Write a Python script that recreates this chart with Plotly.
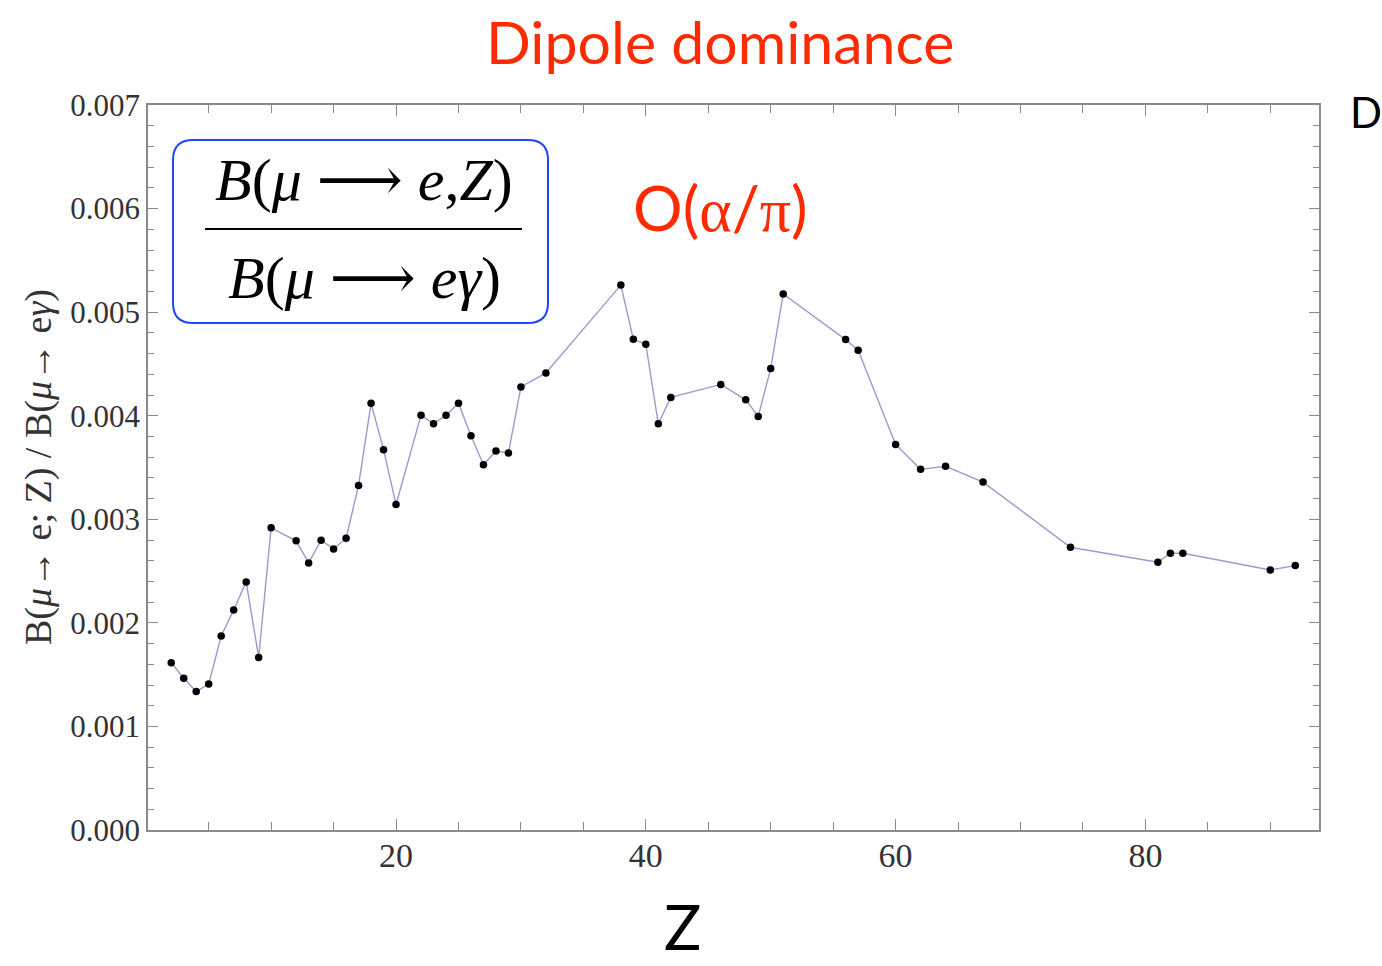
import plotly.graph_objects as go

# ---- data ----
Z = [2, 3, 4, 5, 6, 7, 8, 9, 10, 12, 13, 14, 15, 16, 17, 18, 19, 20,
     22, 23, 24, 25, 26, 27, 28, 29, 30, 32, 38, 39, 40, 41, 42, 46, 48,
     49, 50, 51, 56, 57, 60, 62, 64, 67, 74, 81, 82, 83, 90, 92]
ratio = [1.615, 1.465, 1.337, 1.409, 1.873, 2.125, 2.395, 1.666, 2.918,
         2.792, 2.579, 2.798, 2.714, 2.817, 3.327, 4.120, 3.672, 3.143,
         4.004, 3.923, 4.004, 4.120, 3.807, 3.527, 3.659, 3.640, 4.278,
         4.413, 5.261, 4.738, 4.690, 3.922, 4.177, 4.302, 4.153, 3.993,
         4.457, 5.176, 4.735, 4.632, 3.723, 3.482, 3.512, 3.359, 2.730,
         2.585, 2.672, 2.672, 2.511, 2.553]
ratio = [v * 1e-3 for v in ratio]

title_text = "Dipole dominance"
order_text = ("O(<span style='font-family:Liberation Serif'>α</span>/"
              "<span style='font-family:Liberation Serif'>π</span>)")
xlabel_text = "Z"
ylabel_text = "B(<i>μ</i>→ e; Z) / B(<i>μ</i>→ e<i>γ</i>)"
num_text = "<i>B</i>(<i>μ</i> ⟶ <i>e</i>,<i>Z</i>)"
den_text = "<i>B</i>(<i>μ</i> ⟶ <i>eγ</i>)"

# ---- layout geometry (pixels) ----
W, H = 1382, 966
L, R, T, B = 148, 1319, 105, 830
pw, ph = R - L, B - T


def px(x):
    return (x - L) / pw


def py(y):
    return (B - y) / ph


frame = "#8a8a8a"
red = "#ff2a00"
blue = "#1e46ff"

fig = go.Figure()
fig.add_trace(go.Scatter(
    x=Z, y=ratio, mode="lines+markers",
    line=dict(color="#9a9ad0", width=1.4),
    marker=dict(color="black", size=7.5),
    showlegend=False,
))

axis_common = dict(
    showgrid=False, zeroline=False, showline=True, linecolor=frame,
    linewidth=1.5, mirror="ticks", ticks="inside", tickcolor=frame,
    tickwidth=1.2,
)

fig.update_xaxes(
    range=[0.14, 93.9], dtick=20, tick0=0, ticklen=11, ticklabelstandoff=-6,
    minor=dict(dtick=5, ticklen=8, ticks="inside", tickcolor=frame, tickwidth=1.2),
    tickfont=dict(family="Liberation Serif", size=34, color="#333333"),
    **axis_common,
)
fig.update_yaxes(
    range=[0, 0.007], dtick=0.001, tick0=0, ticklen=10, tickformat=".3f",
    minor=dict(dtick=0.0002, ticklen=6, ticks="inside", tickcolor=frame, tickwidth=1.2),
    tickfont=dict(family="Liberation Serif", size=31, color="#333333"),
    **axis_common,
)

# rounded blue box
x0, x1 = px(173), px(548)
y0, y1 = py(323), py(140)
rx, ry = 20 / pw, 20 / ph
path = (f"M {x0+rx},{y1} L {x1-rx},{y1} Q {x1},{y1} {x1},{y1-ry} "
        f"L {x1},{y0+ry} Q {x1},{y0} {x1-rx},{y0} L {x0+rx},{y0} "
        f"Q {x0},{y0} {x0},{y0+ry} L {x0},{y1-ry} Q {x0},{y1} {x0+rx},{y1} Z")
fig.add_shape(type="path", path=path, xref="paper", yref="paper",
              line=dict(color=blue, width=2), fillcolor="white", layer="above")
fig.add_shape(type="line", xref="paper", yref="paper",
              x0=px(205), x1=px(522), y0=py(229), y1=py(229),
              line=dict(color="black", width=2.2), layer="above")

serif = "Liberation Serif, DejaVu Serif"
sans = "Lato"
ann = [
    dict(text=num_text, x=px(364), y=py(180), font=dict(family=serif, size=60, color="black")),
    dict(text=den_text, x=px(364), y=py(278), font=dict(family=serif, size=60, color="black")),
    dict(text=title_text, x=px(720), y=py(42), font=dict(family=sans, size=59, color=red)),
    dict(text=order_text, x=px(720), y=py(207), font=dict(family=sans, size=62, color=red)),
    dict(text=xlabel_text, x=px(682), y=py(965), yanchor="bottom",
         font=dict(family=sans, size=62, color="black")),
    dict(text=ylabel_text, x=px(38), y=py(467), textangle=-90,
         font=dict(family=serif, size=38, color="#333333")),
    dict(text="D", x=px(1348), y=py(112), xanchor="left",
         font=dict(family=sans, size=42, color="black")),
]
for a in ann:
    a.setdefault("xanchor", "center")
    a.setdefault("yanchor", "middle")
    fig.add_annotation(xref="paper", yref="paper", showarrow=False, **a)

fig.update_layout(
    width=W, height=H,
    margin=dict(l=L, r=W - R, t=T, b=H - B),
    paper_bgcolor="white", plot_bgcolor="white",
)

fig.write_html("out.html")
